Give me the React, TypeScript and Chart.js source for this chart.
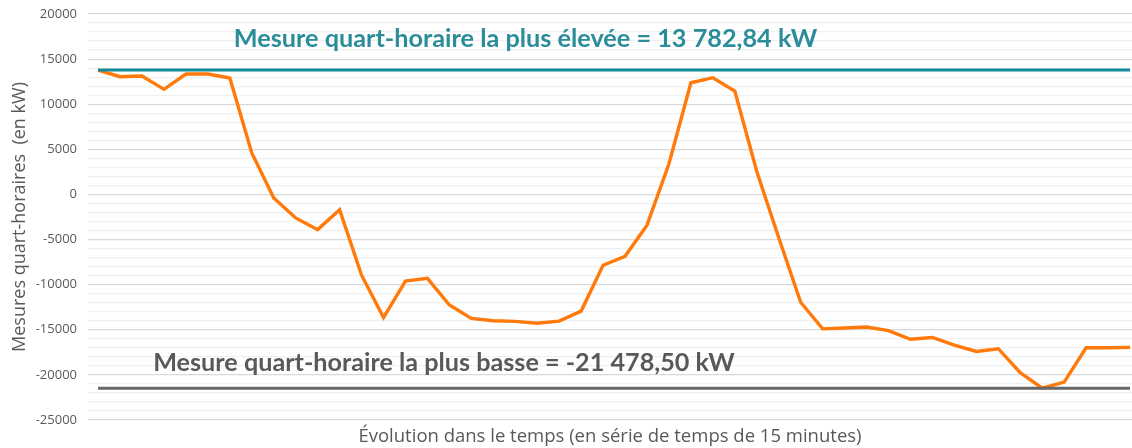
import React, { useEffect, useRef } from "react";
import { Chart, registerables } from "chart.js";

Chart.register(...registerables);

// Quarter-hour measurements (kW), one per 15-minute slot
const measures: number[] = [
  13780, 13050, 13130, 11650, 13350, 13350, 12900, 4600, -400, -2600,
  -3900, -1700, -8950, -13650, -9600, -9300, -12250, -13740, -14000, -14070,
  -14280, -14040, -12930, -7850, -6850, -3400, 3400, 12380, 12940, 11460,
  2550, -4800, -11950, -14900, -14800, -14700, -15100, -16050, -15850, -16700,
  -17400, -17100, -19750, -21478.5, -20800, -17000, -17000, -16950,
];
const maxValue = 13782.84;
const minValue = -21478.5;
const maxLabel = "Mesure quart-horaire la plus élevée = 13 782,84 kW";
const minLabel = "Mesure quart-horaire la plus basse = -21 478,50 kW";
const yTitle = "Mesures quart-horaires  (en kW)";
const xTitle = "Évolution dans le temps (en série de temps de 15 minutes)";
const yMin = -25000;
const yMax = 20000;

export default function App() {
  const ref = useRef<HTMLCanvasElement | null>(null);

  useEffect(() => {
    document.body.style.margin = "0";
    const canvas = ref.current;
    if (!canvas) return;
    const idx = measures.map((_, i) => i);

    const textPlugin = {
      id: "annotTexts",
      afterDatasetsDraw(chart: any) {
        const ctx = chart.ctx as CanvasRenderingContext2D;
        const drawFit = (t: string, cx: number, base: number, w: number, color: string) => {
          let size = 24;
          ctx.font = `bold ${size}px Lato`;
          const m = ctx.measureText(t).width;
          size = (size * w) / m;
          ctx.font = `bold ${size}px Lato`;
          ctx.fillStyle = color;
          ctx.textAlign = "center";
          ctx.textBaseline = "alphabetic";
          ctx.fillText(t, cx, base);
        };
        ctx.save();
        drawFit(maxLabel, 525.5, 47, 584, "#2B8C9A");
        drawFit(minLabel, 444, 371, 582, "#595959");
        ctx.restore();
      },
    };

    const chart = new Chart(canvas, {
      type: "line",
      data: {
        datasets: [
          {
            label: "Mesures",
            data: idx.map((i) => ({ x: i, y: measures[i] })),
            borderColor: "#FF7A0A",
            borderWidth: 3.4,
            pointRadius: 0,
            tension: 0,
            order: 3,
          },
          {
            label: "Max",
            data: idx.map((i) => ({ x: i, y: maxValue })),
            borderColor: "#12899A",
            borderWidth: 3,
            pointRadius: 0,
            order: 1,
          },
          {
            label: "Min",
            data: idx.map((i) => ({ x: i, y: minValue })),
            borderColor: "#666666",
            borderWidth: 3,
            pointRadius: 0,
            order: 2,
          },
        ],
      },
      options: {
        animation: false,
        responsive: false,
        maintainAspectRatio: false,
        layout: { padding: { top: 14, right: 0, bottom: 0, left: 0 } },
        plugins: { legend: { display: false }, tooltip: { enabled: false } },
        scales: {
          x: {
            type: "linear",
            min: -0.46,
            max: 47.09,
            ticks: { display: false },
            grid: { display: false },
            border: { display: false },
            title: {
              display: true,
              text: xTitle,
              color: "#595959",
              font: { family: "Open Sans", size: 18.5 },
              padding: { top: 0, bottom: 0 },
            },
            afterFit: (s: any) => {
              s.height = 28;
              s.paddingLeft = 0;
              s.paddingRight = 0;
            },
          },
          y: {
            min: yMin,
            max: yMax,
            ticks: {
              stepSize: 1000,
              autoSkip: false,
              color: "#595959",
              font: { family: "Open Sans", size: 13 },
              padding: 11,
              callback: (v: any) => (Number(v) % 5000 === 0 ? String(v) : ""),
            },
            grid: {
              drawTicks: false,
              color: (c: any) => (c.tick && c.tick.value % 5000 === 0 ? "#D9D9D9" : "#F0F0F0"),
              lineWidth: 1.2,
            },
            border: { display: false },
            title: {
              display: true,
              text: yTitle,
              color: "#595959",
              font: { family: "Open Sans", size: 18 },
              padding: { top: 9, bottom: 0 },
            },
            afterFit: (s: any) => {
              s.width = 88;
              s.paddingTop = 0;
              s.paddingBottom = 0;
            },
          },
        },
      },
      plugins: [textPlugin],
    });
    return () => chart.destroy();
  }, []);

  return (
    <div style={{ position: "absolute", left: 0, top: 0, width: 1132, height: 448 }}>
      <canvas ref={ref} width={1132} height={448} style={{ width: 1132, height: 448 }} />
    </div>
  );
}
